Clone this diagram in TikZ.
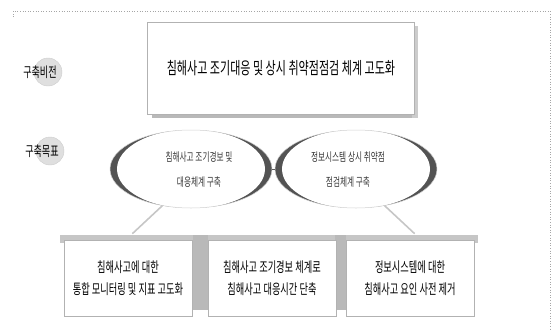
\documentclass[tikz,border=0pt]{standalone}
\usepackage{fontspec}
\newfontfamily\cjk[FakeStretch=0.65]{Noto Sans CJK KR}
\usetikzlibrary{shapes.geometric}
\tikzset{
  frameline/.style={draw=gray!70, dotted, line width=0.6pt},
  topbox/.style={draw=gray!60, fill=white, line width=0.6pt, minimum width=267pt, minimum height=92pt, font=\cjk\fontsize{17}{20}\selectfont},
  goal/.style={ellipse, draw=gray!35, line width=0.5pt, minimum width=162pt, minimum height=78pt, inner sep=0pt},
  goaltext/.style={align=center, font=\cjk\fontsize{11.8}{25}\selectfont, text=gray!45!black},
  darkring/.style={fill=gray!65!black},
  tail/.style={draw=gray!45, line width=1.6pt},
  botbox/.style={draw=gray!60, fill=white, line width=0.5pt, minimum width=128pt, minimum height=76pt, align=center, font=\cjk\fontsize{14.2}{22}\selectfont},
  sidelabel/.style={font=\cjk\fontsize{14}{16}\selectfont},
  sidedisc/.style={circle, fill=gray!25, draw=gray!40, minimum size=28pt, inner sep=0pt}
}
\begin{document}
\begin{tikzpicture}[x=1pt,y=-1pt]
\useasboundingbox (0,0) rectangle (555,330);
% outer frame
\draw[frameline] (13,17) -- (13,11) -- (550,11) -- (550,330);
% side labels
\node[sidedisc] (d1) at (48,72) {};
\node[sidelabel] (l1) at (40,72) {구축비전};
\node[sidedisc] (d2) at (50,151) {};
\node[sidelabel] (l2) at (42,151) {구축목표};
% top box
\fill[gray!55] (152,112) rectangle (418,118);
\fill[gray!40] (412,26) rectangle (418,118);
\node[topbox] (vision) at (281,68) {침해사고 조기대응 및 상시 취약점점검 체계 고도화};
% goal ellipses: dark crescents
\fill[darkring] (191,169) ellipse[x radius=81pt, y radius=39pt];
\fill[white] (191,169) ellipse[x radius=74pt, y radius=39.5pt];
\fill[darkring] (356,169) ellipse[x radius=81pt, y radius=39pt];
\fill[white] (356,169) ellipse[x radius=74pt, y radius=39.5pt];
\node[goal] (g1) at (191,169) {};
\node[goal] (g2) at (356,169) {};
\node[goaltext] (g1t) at (199,170) {침해사고 조기경보 및\\대응체계 구축};
\node[goaltext] (g2t) at (348,170) {정보시스템 상시 취약점\\점검체계 구축};
\draw[tail] (g1.-128) -- ++(-30,28) coordinate (t1);
\draw[tail] (g2.-52) -- ++(30,28) coordinate (t2);
\draw[gray!70!black, line width=0.8pt] (g1.east) -- (g2.west);
% bottom shading band
\fill[gray!45] (60,235) rectangle (478,243);
\fill[gray!55] (193,235) rectangle (208,310);
\fill[gray!55] (335,235) rectangle (346,310);
% bottom boxes
\node[botbox] (b1) at (128,278) {침해사고에 대한\\통합 모니터링 및 지표 고도화};
\node[botbox] (b2) at (272,278) {침해사고 조기경보 체계로\\침해사고 대응시간 단축};
\node[botbox] (b3) at (410,278) {정보시스템에 대한\\침해사고 요인 사전 제거};
\end{tikzpicture}
\end{document}
